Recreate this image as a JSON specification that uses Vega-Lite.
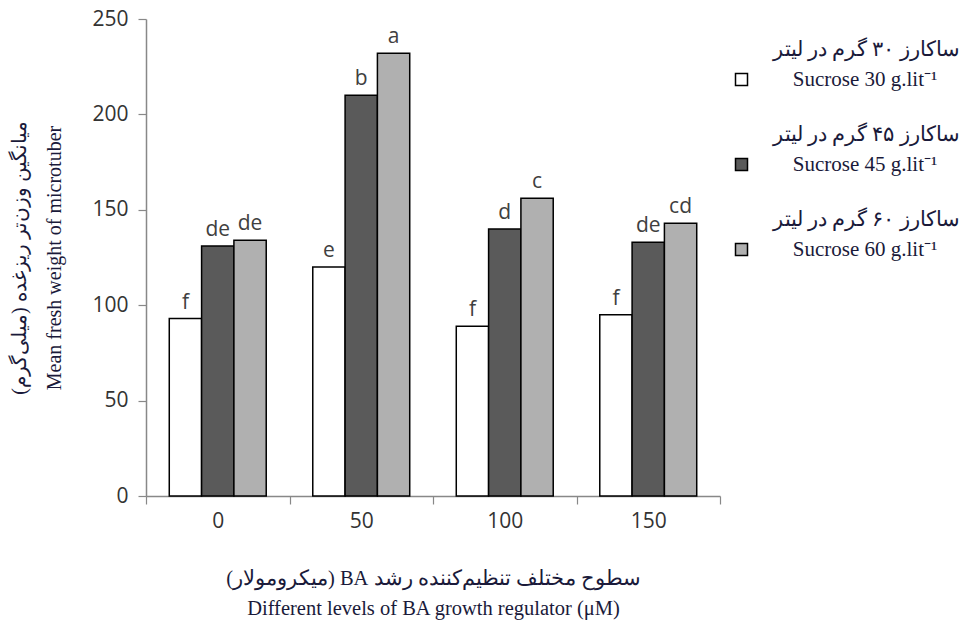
{
  "$schema": "https://vega.github.io/schema/vega-lite/v6.json",
  "width": 574,
  "height": 477,
  "autosize": {"type": "none"},
  "padding": {"left": 146, "top": 19, "right": 253, "bottom": 128},
  "background": "white",
  "config": {
    "view": {"stroke": null},
    "font": "Liberation Serif"
  },
  "data": {
    "values": [
      {"ba": "0", "sucrose": "30", "sucroseFa": "ساکارز ۳۰ گرم در لیتر", "weight": 93, "letter": "f"},
      {"ba": "0", "sucrose": "45", "sucroseFa": "ساکارز ۴۵ گرم در لیتر", "weight": 131, "letter": "de"},
      {"ba": "0", "sucrose": "60", "sucroseFa": "ساکارز ۶۰ گرم در لیتر", "weight": 134, "letter": "de"},
      {"ba": "50", "sucrose": "30", "sucroseFa": "ساکارز ۳۰ گرم در لیتر", "weight": 120, "letter": "e"},
      {"ba": "50", "sucrose": "45", "sucroseFa": "ساکارز ۴۵ گرم در لیتر", "weight": 210, "letter": "b"},
      {"ba": "50", "sucrose": "60", "sucroseFa": "ساکارز ۶۰ گرم در لیتر", "weight": 232, "letter": "a"},
      {"ba": "100", "sucrose": "30", "sucroseFa": "ساکارز ۳۰ گرم در لیتر", "weight": 89, "letter": "f"},
      {"ba": "100", "sucrose": "45", "sucroseFa": "ساکارز ۴۵ گرم در لیتر", "weight": 140, "letter": "d"},
      {"ba": "100", "sucrose": "60", "sucroseFa": "ساکارز ۶۰ گرم در لیتر", "weight": 156, "letter": "c"},
      {"ba": "150", "sucrose": "30", "sucroseFa": "ساکارز ۳۰ گرم در لیتر", "weight": 95, "letter": "f"},
      {"ba": "150", "sucrose": "45", "sucroseFa": "ساکارز ۴۵ گرم در لیتر", "weight": 133, "letter": "de"},
      {"ba": "150", "sucrose": "60", "sucroseFa": "ساکارز ۶۰ گرم در لیتر", "weight": 143, "letter": "cd"}
    ]
  },
  "encoding": {
    "x": {
      "field": "ba", "type": "nominal", "sort": ["0", "50", "100", "150"],
      "scale": {"paddingInner": 0, "paddingOuter": 0},
      "axis": {
        "title": ["\u202bسطوح مختلف تنظیم‌کننده رشد BA (میکرومولار)\u202c", "Different levels of BA growth regulator (μM)"],
        "titleFont": "Liberation Serif", "titleFontSize": 20.5, "titleFontWeight": "normal",
        "titleLineHeight": 30, "titleColor": "#1a1a3a", "titlePadding": 37,
        "labelAngle": 0, "labelFont": "Open Sans", "labelFontSize": 21, "labelColor": "#333333",
        "labelPadding": 6, "tickBand": "extent", "tickSize": 8, "tickColor": "#888888",
        "domainColor": "#888888", "domainWidth": 1.5, "tickWidth": 1.2
      }
    },
    "xOffset": {
      "field": "sucrose", "type": "nominal", "sort": ["30", "45", "60"],
      "scale": {"paddingInner": 0, "paddingOuter": 0.72}
    },
    "y": {
      "field": "weight", "type": "quantitative",
      "scale": {"domain": [0, 250]},
      "axis": {
        "values": [0, 50, 100, 150, 200, 250], "grid": false,
        "title": ["\u202bمیانگین وزن‌تر ریزغده (میلی‌گرم)\u202c", "Mean fresh weight of microtuber"],
        "titleFont": "Liberation Serif", "titleFontSize": 20, "titleFontWeight": "normal",
        "titleLineHeight": 35, "titleColor": "#1a1a3a", "titlePadding": 27,
        "labelFont": "Open Sans", "labelFontSize": 21, "labelColor": "#333333", "labelPadding": 10,
        "tickSize": 8, "tickColor": "#888888", "domainColor": "#888888", "domainWidth": 1.5, "tickWidth": 1.2
      }
    }
  },
  "layer": [
    {
      "mark": {"type": "bar", "stroke": "black", "strokeWidth": 1.5},
      "encoding": {
        "fill": {
          "field": "sucrose", "type": "nominal", "sort": ["30", "45", "60"],
          "scale": {"range": ["#ffffff", "#5a5a5a", "#b0b0b0"]},
          "legend": {
            "orient": "none", "legendX": 585, "legendY": 50, "title": null, "padding": 0,
            "symbolType": "square", "symbolSize": 144, "symbolStrokeColor": "black", "symbolStrokeWidth": 1.5,
            "labelFont": "Liberation Serif", "labelFontSize": 21, "labelColor": "#1a1a3a",
            "labelBaseline": "middle", "labelAlign": "center",
            "labelOffset": 113, "labelLimit": 400, "rowPadding": 63,
            "labelExpr": "'Sucrose ' + datum.label + ' g.lit⁻¹'"
          }
        }
      }
    },
    {
      "mark": {"type": "text", "dy": -10, "baseline": "alphabetic", "font": "Open Sans", "fontSize": 21},
      "encoding": {
        "text": {"field": "letter"},
        "color": {
          "field": "sucroseFa", "type": "nominal",
          "sort": ["ساکارز ۳۰ گرم در لیتر", "ساکارز ۴۵ گرم در لیتر", "ساکارز ۶۰ گرم در لیتر"],
          "scale": {"range": ["#404040", "#404040", "#404040"]},
          "legend": {
            "orient": "none", "legendX": 585, "legendY": 20, "title": null, "padding": 0,
            "symbolType": "square", "symbolSize": 144, "symbolOpacity": 0,
            "labelFont": "Liberation Serif", "labelFontSize": 21, "labelColor": "#1a1a3a",
            "labelBaseline": "middle", "labelAlign": "center",
            "labelOffset": 114, "labelLimit": 400, "rowPadding": 63,
            "labelExpr": "'\u202b' + datum.label + '\u202c'"
          }
        }
      }
    }
  ]
}
